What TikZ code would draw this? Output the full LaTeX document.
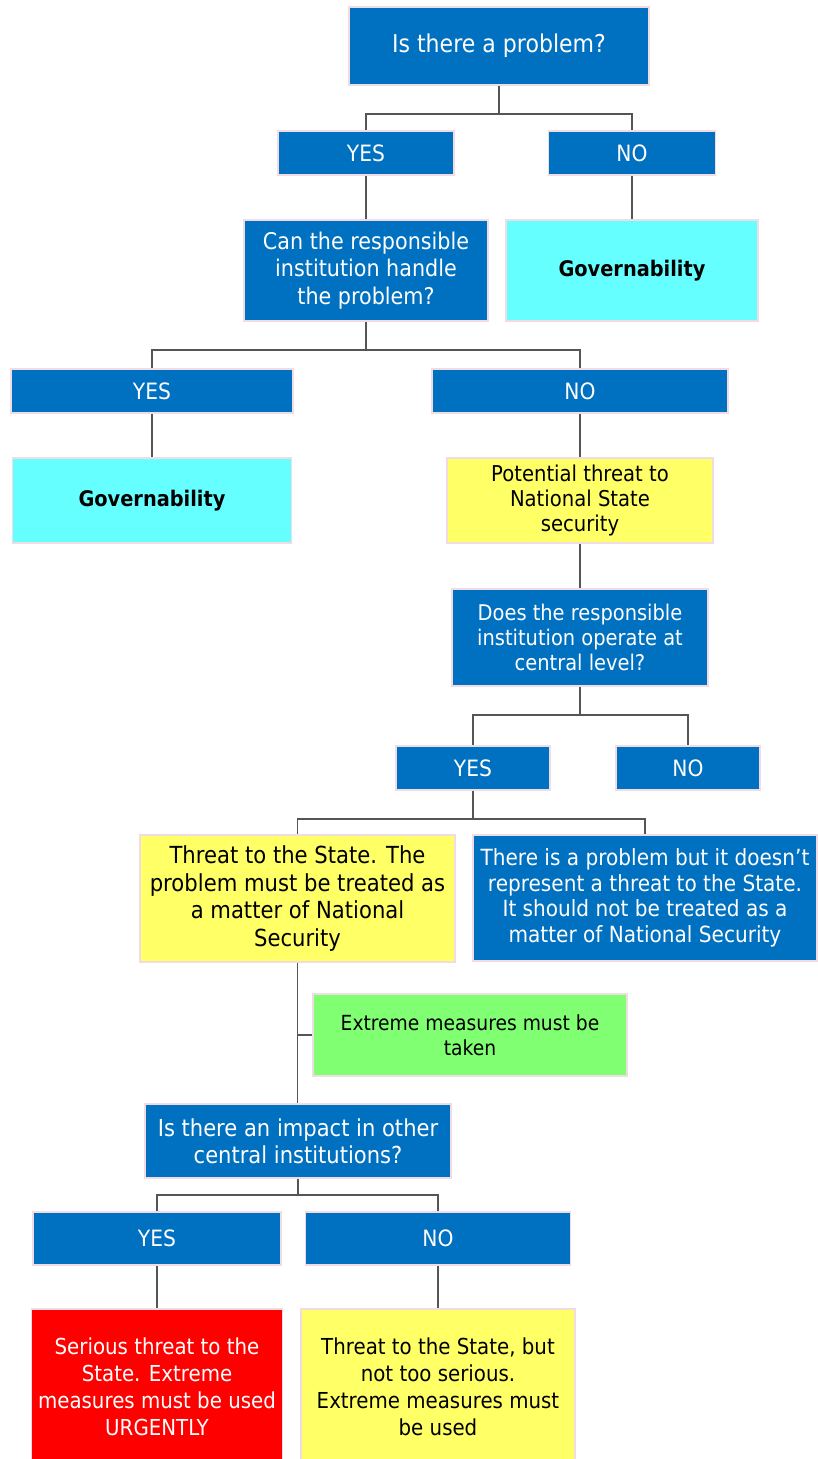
\documentclass[tikz,border=0pt]{standalone}
\usepackage{fontspec}
\setmainfont{DejaVu Sans}[FakeStretch=0.9]
\usepackage{tikz}
\definecolor{qblue}{RGB}{0,112,192}
\definecolor{govcyan}{RGB}{102,255,255}
\definecolor{warnyellow}{RGB}{255,255,102}
\definecolor{measgreen}{RGB}{128,255,114}
\definecolor{alarmred}{RGB}{255,0,0}
\definecolor{edgepink}{RGB}{242,220,228}
\definecolor{linkgray}{RGB}{85,85,85}

\begin{document}
\begin{tikzpicture}[x=1pt,y=-1pt,
		box/.style={draw=edgepink,line width=1.5pt,align=center,inner sep=0pt,
			font=\fontsize{22.5}{27}\selectfont},
		qnode/.style={box,fill=qblue,text=white},
		govnode/.style={box,fill=govcyan,font=\fontsize{21.5}{26}\selectfont\bfseries},
		warnnode/.style={box,fill=warnyellow},
		link/.style={draw=linkgray,line width=1.6pt}]
		\useasboundingbox (0,0) rectangle (817,1459);

		% first question
		\node[qnode,minimum width=300,minimum height=78,font=\fontsize{24.5}{29}\selectfont] (q1) at (499,46) {Is there a problem?};
		\node[qnode,minimum width=176,minimum height=44] (yes1) at (366,153) {YES};
		\node[qnode,minimum width=167,minimum height=44] (no1) at (632,153) {NO};
		\node[qnode,minimum width=244,minimum height=101,font=\fontsize{23}{27.5}\selectfont] (q2) at (366,270.5) {Can the responsible\\institution handle\\the problem?};
		\node[govnode,minimum width=252,minimum height=101] (gov1) at (632,270.5) {Governability};

		% second question
		\node[qnode,minimum width=282,minimum height=44] (yes2) at (152,391) {YES};
		\node[qnode,minimum width=296,minimum height=44] (no2) at (580,391) {NO};
		\node[govnode,minimum width=279,minimum height=85] (gov2) at (152,500.5) {Governability};
		\node[warnnode,minimum width=266,minimum height=85,font=\fontsize{21.8}{25}\selectfont] (pot) at (580,500.5) {Potential threat to\\National State\\security};
		\node[qnode,minimum width=256,minimum height=97,font=\fontsize{21.6}{25}\selectfont] (q3) at (580,637.5) {Does the responsible\\institution operate at\\central level?};
		\node[qnode,minimum width=154,minimum height=44] (yes3) at (473,768) {YES};
		\node[qnode,minimum width=144,minimum height=44] (no3) at (688,768) {NO};

		% threat level
		\node[warnnode,minimum width=315,minimum height=127,font=\fontsize{23.5}{27.5}\selectfont] (threat) at (297.5,898.5) {Threat to the State. The\\problem must be treated as\\a matter of National\\Security};
		\node[qnode,minimum width=344,minimum height=126,font=\fontsize{22.3}{25.5}\selectfont] (noprob) at (645,898) {There is a problem but it doesn’t\\represent a threat to the State.\\It should not be treated as a\\matter of National Security};
		\node[box,fill=measgreen,minimum width=314,minimum height=82,font=\fontsize{20.8}{25}\selectfont] (extreme) at (470,1035) {Extreme measures must be\\taken};

		% third question
		\node[qnode,minimum width=306,minimum height=74,font=\fontsize{23.4}{27}\selectfont] (q4) at (298,1141) {Is there an impact in other\\central institutions?};
		\node[qnode,minimum width=248,minimum height=53] (yes4) at (157,1238.5) {YES};
		\node[qnode,minimum width=265,minimum height=53] (no4) at (438,1238.5) {NO};
		\node[box,fill=alarmred,text=white,minimum width=251,minimum height=156,font=\fontsize{22}{27}\selectfont] (serious) at (157,1387) {Serious threat to the\\State. Extreme\\measures must be used\\URGENTLY};
		\node[warnnode,minimum width=274,minimum height=156,font=\fontsize{22}{27}\selectfont] (notserious) at (438,1387) {Threat to the State, but\\not too serious.\\Extreme measures must\\be used};

		% connectors
		\draw[link] (q1.south) -- ++(0,28) -| (yes1.north);
		\draw[link] (q1.south) -- ++(0,28) -| (no1.north);
		\draw[link] (yes1) -- (q2);
		\draw[link] (no1) -- (gov1);
		\draw[link] (q2.south) -- ++(0,28) -| (yes2.north);
		\draw[link] (q2.south) -- ++(0,28) -| (no2.north);
		\draw[link] (yes2) -- (gov2);
		\draw[link] (no2) -- (pot);
		\draw[link] (pot) -- (q3);
		\draw[link] (q3.south) -- ++(0,28) -| (yes3.north);
		\draw[link] (q3.south) -- ++(0,28) -| (no3.north);
		\draw[link] (yes3.south) -- ++(0,28) -| (threat.north);
		\draw[link] (yes3.south) -- ++(0,28) -| (noprob.north);
		\draw[link] (threat.south) -- (q4.north -| threat.south);
		\draw[link] (extreme.west) -- (extreme.west -| threat.south);
		\draw[link] (q4.south) -- ++(0,16) -| (yes4.north);
		\draw[link] (q4.south) -- ++(0,16) -| (no4.north);
		\draw[link] (yes4) -- (serious);
		\draw[link] (no4) -- (notserious);
	\end{tikzpicture}
\end{document}
